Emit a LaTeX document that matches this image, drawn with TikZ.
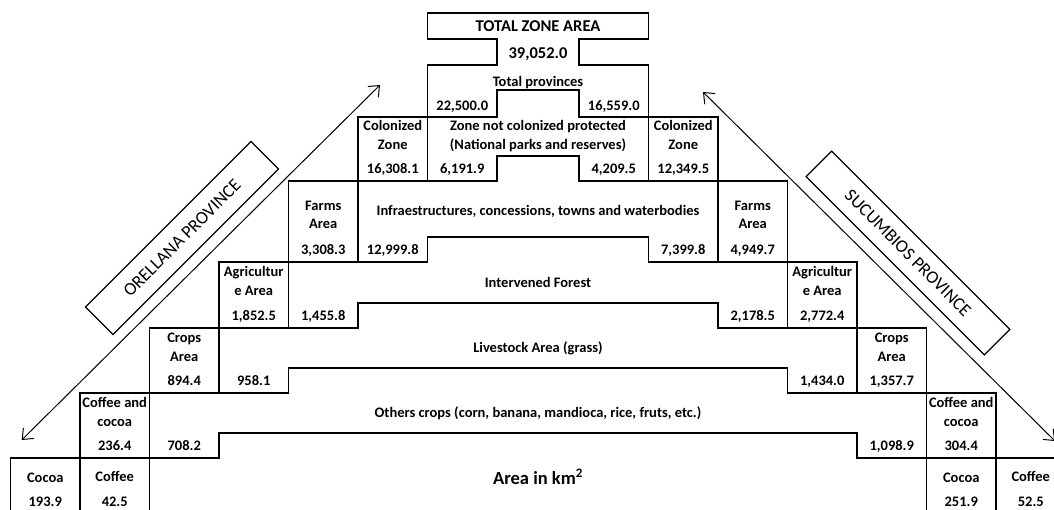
\documentclass[tikz,border=0pt]{standalone}
\usepackage{fontspec}
\setmainfont{Carlito}
\usetikzlibrary{positioning,arrows.meta}
\tikzstyle{cell} = [draw, line width=1.2pt, minimum width=69.5pt, inner sep=0pt]
\tikzstyle{tag} = [inner sep=0pt, align=center, font=\bfseries\fontsize{14.5}{18.5}\selectfont]
\tikzstyle{num} = [tag, text depth=0pt]
\tikzstyle{band} = [tag, anchor=base]
\tikzstyle{stair} = [line width=1.2pt]
\tikzstyle{province} = [draw, line width=1.2pt, inner sep=0pt, font=\fontsize{18}{20}\selectfont]
\tikzstyle{eje} = [line width=1pt, >={Straight Barb[length=9pt,width=15pt]}, <->]

\begin{document}
\begin{tikzpicture}[x=1pt,y=-1pt]
\useasboundingbox (0,0) rectangle (1054,509);
\clip (0,0) rectangle (1054,509);

\draw[stair] (427.5,117) -- (427.5,65) -- (497,65) -- (497,39) -- (427.5,39) -- (427.5,13) -- (648.5,13) -- (648.5,39) -- (579,39) -- (579,65) -- (648.5,65) -- (648.5,117) -- (579,117) -- (579,90) -- (497,90) -- (497,117) -- cycle;
\draw[stair] (427.5,181) -- (497,181) -- (497,156) -- (579,156) -- (579,181) -- (648.5,181);
\draw[stair] (358,262) -- (427.5,262) -- (427.5,237) -- (648.5,237) -- (648.5,262) -- (718,262);
\draw[stair] (288.5,328) -- (358,328) -- (358,303) -- (718,303) -- (718,328) -- (787.5,328);
\draw[stair] (219,393) -- (288.5,393) -- (288.5,368) -- (787.5,368) -- (787.5,393) -- (857,393);
\draw[stair] (149.5,458) -- (219,458) -- (219,433) -- (857,433) -- (857,458) -- (926.5,458);

\node[band, font=\bfseries\fontsize{16.5}{18}\selectfont] (tzone) at (538,31.5) {TOTAL ZONE AREA};
\node[band, font=\bfseries\fontsize{16.5}{18}\selectfont] (tnum) at (538,58.5) {39,052.0};
\node[band] (tprov) at (538,86) {Total provinces};
\node[num, anchor=base] (oprov) at (462.25,110) {22,500.0};
\node[num, anchor=base] (sprov) at (613.75,110) {16,559.0};

% colonized zone
\node[cell, minimum height=64pt] (ocol) at (392.75,149) {};
\node[tag, below=4pt of ocol.north] (ocoltag) {Colonized\\Zone};
\node[num, above=7.5pt of ocol.south] (ocolval) {16,308.1};
\node[cell, minimum height=64pt] (scol) at (683.25,149) {};
\node[tag, below=4pt of scol.north] (scoltag) {Colonized\\Zone};
\node[num, above=7.5pt of scol.south] (scolval) {12,349.5};
\node[tag, anchor=north] (prot) at (538,120.5) {Zone not colonized protected\\(National parks and reserves)};
\node[num, anchor=base] (oprot) at (462.25,173.5) {6,191.9};
\node[num, anchor=base] (sprot) at (613.75,173.5) {4,209.5};

% farms
\node[cell, minimum height=81pt] (ofarm) at (323.25,221.5) {};
\node[tag, below=20pt of ofarm.north] (ofarmtag) {Farms\\Area};
\node[num, above=7.5pt of ofarm.south] (ofarmval) {3,308.3};
\node[cell, minimum height=81pt] (sfarm) at (752.75,221.5) {};
\node[tag, below=20pt of sfarm.north] (sfarmtag) {Farms\\Area};
\node[num, above=7.5pt of sfarm.south] (sfarmval) {4,949.7};
\node[band] (infra) at (538,215) {Infraestructures, concessions, towns and waterbodies};
\node[num, anchor=base] (oinfra) at (392.75,254.5) {12,999.8};
\node[num, anchor=base] (sinfra) at (683.25,254.5) {7,399.8};

% agriculture
\node[cell, minimum height=66pt] (oagri) at (253.75,295) {};
\node[tag, below=5pt of oagri.north] (oagritag) {Agricultur\\e Area};
\node[num, above=7.5pt of oagri.south] (oagrival) {1,852.5};
\node[cell, minimum height=66pt] (sagri) at (822.25,295) {};
\node[tag, below=5pt of sagri.north] (sagritag) {Agricultur\\e Area};
\node[num, above=7.5pt of sagri.south] (sagrival) {2,772.4};
\node[band] (forest) at (538,287) {Intervened Forest};
\node[num, anchor=base] (oforest) at (323.25,320.5) {1,455.8};
\node[num, anchor=base] (sforest) at (752.75,320.5) {2,178.5};

% crops
\node[cell, minimum height=65pt] (ocrop) at (184.25,360.5) {};
\node[tag, below=5.5pt of ocrop.north] (ocroptag) {Crops\\Area};
\node[num, above=7.5pt of ocrop.south] (ocropval) {894.4};
\node[cell, minimum height=65pt] (scrop) at (891.75,360.5) {};
\node[tag, below=5.5pt of scrop.north] (scroptag) {Crops\\Area};
\node[num, above=7.5pt of scrop.south] (scropval) {1,357.7};
\node[band] (grass) at (538,352) {Livestock Area (grass)};
\node[num, anchor=base] (ograss) at (253.75,385.5) {958.1};
\node[num, anchor=base] (sgrass) at (822.25,385.5) {1,434.0};

% coffee and cocoa
\node[cell, minimum height=65pt] (omix) at (114.75,425.5) {};
\node[tag, below=5pt of omix.north] (omixtag) {Coffee and\\cocoa};
\node[num, above=7.5pt of omix.south] (omixval) {236.4};
\node[cell, minimum height=65pt] (smix) at (961.25,425.5) {};
\node[tag, below=5pt of smix.north] (smixtag) {Coffee and\\cocoa};
\node[num, above=7.5pt of smix.south] (smixval) {304.4};
\node[band] (others) at (538,417) {Others crops (corn, banana, mandioca, rice, fruts, etc.)};
\node[num, anchor=base] (oothers) at (184.25,450.5) {708.2};
\node[num, anchor=base] (sothers) at (891.75,450.5) {1,098.9};

% bottom row
\node[cell, minimum height=55.5pt] (ococoa) at (45.25,485.75) {};
\node[tag, below=15pt of ococoa.north] (ococoatag) {Cocoa};
\node[num, above=7.5pt of ococoa.south] (ococoaval) {193.9};
\node[cell, minimum height=55.5pt] (ocoffee) at (114.75,485.75) {};
\node[tag, below=14pt of ocoffee.north] (ocoffeetag) {Coffee};
\node[num, above=7.5pt of ocoffee.south] (ocoffeeval) {42.5};
\node[cell, minimum height=55.5pt] (scocoa) at (961.25,485.75) {};
\node[tag, below=15pt of scocoa.north] (scocoatag) {Cocoa};
\node[num, above=7.5pt of scocoa.south] (scocoaval) {251.9};
\node[cell, minimum height=55.5pt] (scoffee) at (1030.75,485.75) {};
\node[tag, below=14pt of scoffee.north] (scoffeetag) {Coffee};
\node[num, above=7.5pt of scoffee.south] (scoffeeval) {52.5};
\node[band, font=\bfseries\fontsize{18.5}{20}\selectfont] (area) at (538,484) {Area in km\textsuperscript{2}};

% provinces
\node[province, minimum width=234pt, minimum height=39pt, rotate=45] (orellana) at (182,238) {ORELLANA PROVINCE};
\node[province, minimum width=252pt, minimum height=36pt, rotate=-45] (sucumbios) at (908,253) {SUCUMBIOS PROVINCE};
\coordinate (osur) at (21.7,440);
\coordinate (onorte) at (380,85);
\coordinate (snorte) at (703,92);
\coordinate (ssur) at (1055,441);
\draw[eje] (osur) -- (onorte);
\draw[eje] (snorte) -- (ssur);
\end{tikzpicture}
\end{document}
